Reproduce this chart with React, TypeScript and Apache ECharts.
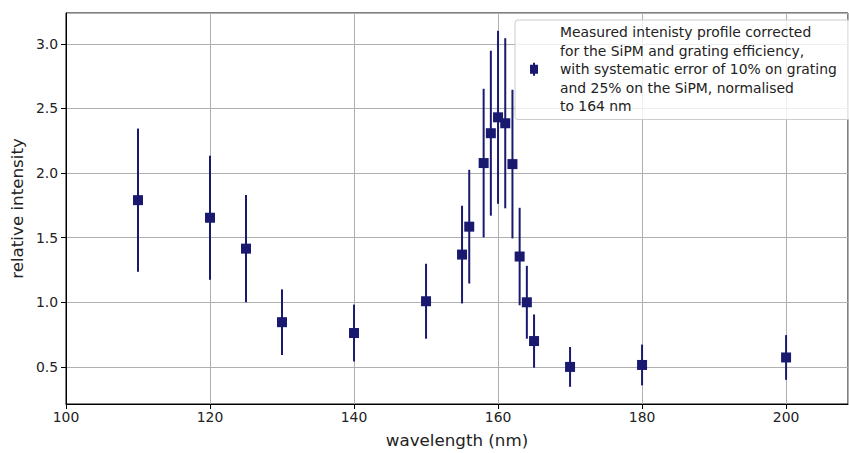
import React, { useEffect, useRef } from "react";
import * as echarts from "echarts";

const wavelengths = [110, 120, 125, 130, 140, 150, 155, 156, 158, 159, 160, 161, 162, 163, 164, 165, 170, 180, 200];
const intensity = [1.79, 1.654, 1.415, 0.846, 0.762, 1.008, 1.369, 1.585, 2.077, 2.308, 2.431, 2.385, 2.069, 1.354, 1.0, 0.7, 0.5, 0.515, 0.573];
const errors = [0.554, 0.48, 0.415, 0.254, 0.22, 0.29, 0.378, 0.44, 0.575, 0.638, 0.669, 0.658, 0.575, 0.377, 0.282, 0.206, 0.154, 0.158, 0.173];

const legendName =
  "Measured intenisty profile corrected\nfor the SiPM and grating efficiency,\nwith systematic error of 10% on grating\nand 25% on the SiPM, normalised\nto 164 nm";

const COLOR = "#191970";
const FONT = "DejaVu Sans";

export default function App() {
  const ref = useRef<HTMLDivElement>(null);
  useEffect(() => {
    if (!ref.current) return;
    const chart = echarts.init(ref.current, undefined, { renderer: "svg" });
    const points = wavelengths.map((w, i) => [w, intensity[i]]);
    const bars = wavelengths.map((w, i) => [w, intensity[i] - errors[i], intensity[i] + errors[i]]);
    chart.setOption({
      animation: false,
      backgroundColor: "#ffffff",
      textStyle: { fontFamily: FONT },
      grid: {
        left: 66,
        right: 1,
        top: 13,
        bottom: 46,
        show: true,
        borderColor: "#000",
        borderWidth: 1,
        backgroundColor: "transparent",
      },
      legend: {
        left: 515,
        top: 20,
        orient: "vertical",
        padding: [3, 14, 4, 15],
        backgroundColor: "rgba(255,255,255,0.8)",
        borderColor: "#cccccc",
        borderWidth: 1,
        borderRadius: 3,
        itemWidth: 8,
        itemHeight: 13,
        data: [
          {
            name: legendName,
            icon: "path://M3,0 L5,0 L5,2 L8,2 L8,11 L5,11 L5,13 L3,13 L3,11 L0,11 L0,2 L3,2 Z",
          },
        ],
        textStyle: {
          fontFamily: FONT,
          fontSize: 13.9,
          color: "#222",
          lineHeight: 18.5,
          padding: [0, 0, 0, 17],
        },
      },
      xAxis: {
        type: "value",
        min: 100,
        max: 208.6,
        interval: 20,
        name: "wavelength (nm)",
        nameLocation: "middle",
        nameGap: 27,
        nameTextStyle: { fontFamily: FONT, fontSize: 16.7, color: "#222" },
        axisLine: { show: true, onZero: false, lineStyle: { color: "#000", width: 1 } },
        axisTick: { show: true, inside: false, length: 5, lineStyle: { color: "#000", width: 1 } },
        axisLabel: {
          fontFamily: FONT,
          fontSize: 13.9,
          color: "#222",
          margin: 6,
          showMaxLabel: false,
          formatter: (v: number) => (Math.abs(v / 20 - Math.round(v / 20)) < 1e-6 ? String(v) : ""),
        },
        splitLine: { show: true, lineStyle: { color: "#b0b0b0", width: 1 } },
      },
      yAxis: {
        type: "value",
        min: 0.213,
        max: 3.238,
        splitNumber: 6,
        name: "relative intensity",
        nameLocation: "middle",
        nameGap: 38,
        nameTextStyle: { fontFamily: FONT, fontSize: 16.7, color: "#222" },
        axisLine: { show: true, onZero: false, lineStyle: { color: "#000", width: 1 } },
        axisTick: { show: true, inside: false, length: 5, lineStyle: { color: "#000", width: 1 } },
        axisLabel: {
          fontFamily: FONT,
          fontSize: 13.9,
          color: "#222",
          margin: 8,
          showMinLabel: false,
          showMaxLabel: false,
          formatter: (v: number) => (Math.abs(v * 2 - Math.round(v * 2)) < 1e-6 ? v.toFixed(1) : ""),
        },
        splitLine: { show: true, lineStyle: { color: "#b0b0b0", width: 1 } },
      },
      series: [
        {
          type: "custom",
          name: "errorbars",
          data: bars,
          z: 3,
          renderItem: (params: any, api: any) => {
            const x = api.value(0);
            const p1 = api.coord([x, api.value(1)]);
            const p2 = api.coord([x, api.value(2)]);
            return {
              type: "line",
              shape: { x1: p1[0], y1: p1[1], x2: p2[0], y2: p2[1] },
              style: { stroke: COLOR, lineWidth: 2 },
            };
          },
        },
        {
          type: "scatter",
          name: legendName,
          data: points,
          symbol: "rect",
          symbolSize: 10,
          z: 4,
          itemStyle: { color: COLOR, opacity: 1 },
        },
      ],
    });
    return () => chart.dispose();
  }, []);
  return (
    <div
      ref={ref}
      style={{ position: "absolute", left: 0, top: 0, width: 849, height: 453, background: "#fff" }}
    />
  );
}
